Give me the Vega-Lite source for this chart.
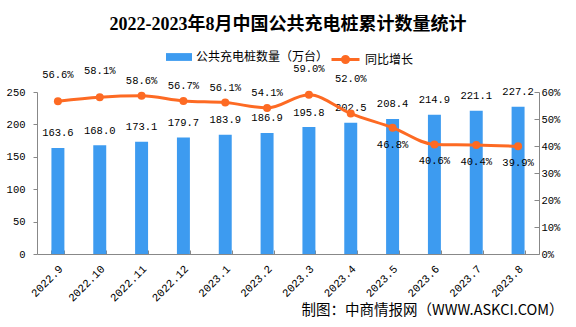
{
  "$schema": "https://vega.github.io/schema/vega-lite/v6.json",
  "width": 502,
  "height": 162,
  "autosize": {"type": "none"},
  "padding": {"left": 37, "top": 92, "right": 37, "bottom": 73},
  "background": "#ffffff",
  "config": {
    "view": {"stroke": null},
    "axis": {"grid": false, "domainColor": "#888888", "tickColor": "#888888", "labelColor": "#000000", "labelFont": "Liberation Mono", "labelFontSize": 10.5, "labelOverlap": false}
  },
  "title": {
    "text": "2022-2023年8月中国公共充电桩累计数量统计",
    "font": "Liberation Serif, Noto Sans CJK SC",
    "fontSize": 18,
    "fontWeight": "bold",
    "color": "#000000",
    "anchor": "middle",
    "frame": "group",
    "offset": 10
  },
  "data": {
    "values": [
      {"month": "2022.9", "count": 163.6, "growth": 0.566},
      {"month": "2022.10", "count": 168.0, "growth": 0.581},
      {"month": "2022.11", "count": 173.1, "growth": 0.586},
      {"month": "2022.12", "count": 179.7, "growth": 0.567},
      {"month": "2023.1", "count": 183.9, "growth": 0.561},
      {"month": "2023.2", "count": 186.9, "growth": 0.541},
      {"month": "2023.3", "count": 195.8, "growth": 0.590},
      {"month": "2023.4", "count": 202.5, "growth": 0.520},
      {"month": "2023.5", "count": 208.4, "growth": 0.468},
      {"month": "2023.6", "count": 214.9, "growth": 0.406},
      {"month": "2023.7", "count": 221.1, "growth": 0.404},
      {"month": "2023.8", "count": 227.2, "growth": 0.399}
    ]
  },
  "encoding": {
    "x": {
      "field": "month",
      "type": "ordinal",
      "sort": null,
      "scale": {"paddingInner": 0.69, "paddingOuter": 0.345},
      "axis": {
        "title": "制图：中商情报网（WWW.ASKCI.COM）",
        "titleFont": "Noto Sans CJK SC",
        "titleFontSize": 14.5,
        "titleFontWeight": "normal",
        "titleColor": "#000000",
        "titleX": 526,
        "titleY": 56.5,
        "titleAlign": "right",
        "titleBaseline": "middle",
        "labelAngle": -45,
        "labelAlign": "right",
        "labelBaseline": "middle",
        "labelFontSize": 11,
        "labelPadding": 17,
        "labelOffset": 3,
        "tickBand": "extent",
        "tickSize": -4
      }
    }
  },
  "layer": [
    {
      "encoding": {
        "y": {
          "field": "count",
          "type": "quantitative",
          "scale": {"domain": [0, 250]},
          "axis": {"title": null, "values": [0, 50, 100, 150, 200, 250], "tickSize": 4, "labelPadding": 8}
        }
      },
      "layer": [
        {
          "mark": {"type": "bar"},
          "encoding": {
            "fill": {
              "datum": "公共充电桩数量（万台）",
              "scale": {"range": ["#3D9BF0"]},
              "legend": {
                "orient": "none",
                "legendX": 129,
                "legendY": -48,
                "title": null,
                "padding": 0,
                "symbolType": "M-1,-0.3H1V0.3H-1Z",
                "symbolSize": 676,
                "symbolStrokeWidth": 0,
                "labelFont": "Noto Sans CJK SC",
                "labelFontSize": 12,
                "labelColor": "#000000",
                "labelOffset": 4
              }
            }
          }
        },
        {
          "mark": {"type": "text", "baseline": "middle", "dy": -14.5, "font": "Liberation Mono", "fontSize": 10.5, "color": "#000000"},
          "encoding": {
            "text": {"field": "count", "type": "quantitative", "format": ".1f"}
          }
        }
      ]
    },
    {
      "encoding": {
        "y": {
          "field": "growth",
          "type": "quantitative",
          "scale": {"domain": [0, 0.6]},
          "axis": {"title": null, "orient": "right", "values": [0, 0.1, 0.2, 0.3, 0.4, 0.5, 0.6], "format": ".0%", "tickSize": -5, "labelPadding": 7}
        }
      },
      "layer": [
        {
          "mark": {"type": "line", "interpolate": "monotone", "strokeWidth": 3},
          "encoding": {
            "stroke": {
              "datum": "同比增长",
              "scale": {"range": ["#FD6A23"]},
              "legend": {
                "orient": "none",
                "legendX": 293,
                "legendY": -48,
                "title": null,
                "padding": 0,
                "symbolType": "M-1,0H1M0.22,0A0.22,0.22 0 1 1 -0.22,0A0.22,0.22 0 1 1 0.22,0Z",
                "symbolSize": 784,
                "symbolStrokeWidth": 3,
                "symbolFillColor": "#FD6A23",
                "labelFont": "Noto Sans CJK SC",
                "labelFontSize": 12,
                "labelColor": "#000000",
                "labelOffset": 4
              }
            }
          }
        },
        {
          "mark": {"type": "point", "filled": true, "size": 64, "color": "#FD6A23", "opacity": 1}
        },
        {
          "transform": [{"filter": {"field": "month", "oneOf": ["2022.9", "2022.10", "2023.3"]}}],
          "mark": {"type": "text", "baseline": "middle", "dy": -26, "font": "Liberation Mono", "fontSize": 10.5, "color": "#000000"},
          "encoding": {"text": {"field": "growth", "type": "quantitative", "format": ".1%"}}
        },
        {
          "transform": [{"filter": {"field": "month", "oneOf": ["2022.11", "2022.12", "2023.1", "2023.2"]}}],
          "mark": {"type": "text", "baseline": "middle", "dy": -15, "font": "Liberation Mono", "fontSize": 10.5, "color": "#000000"},
          "encoding": {"text": {"field": "growth", "type": "quantitative", "format": ".1%"}}
        },
        {
          "transform": [{"filter": {"field": "month", "oneOf": ["2023.4"]}}],
          "mark": {"type": "text", "baseline": "middle", "dy": -35, "font": "Liberation Mono", "fontSize": 10.5, "color": "#000000"},
          "encoding": {"text": {"field": "growth", "type": "quantitative", "format": ".1%"}}
        },
        {
          "transform": [{"filter": {"field": "month", "oneOf": ["2023.5", "2023.6", "2023.7", "2023.8"]}}],
          "mark": {"type": "text", "baseline": "middle", "dy": 17, "font": "Liberation Mono", "fontSize": 10.5, "color": "#000000"},
          "encoding": {"text": {"field": "growth", "type": "quantitative", "format": ".1%"}}
        }
      ]
    }
  ],
  "resolve": {"scale": {"y": "independent"}}
}
